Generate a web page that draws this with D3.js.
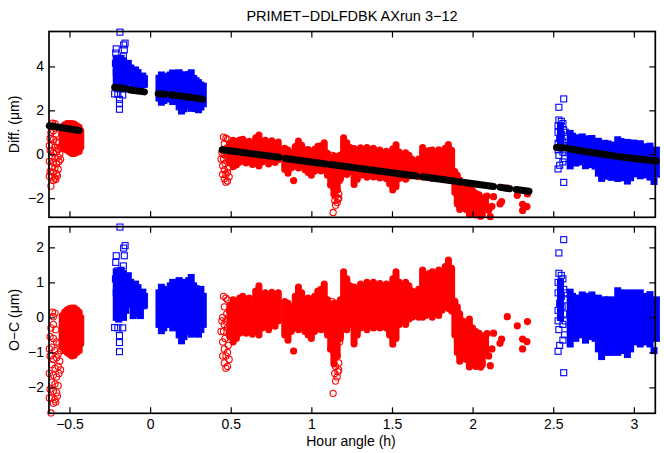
<!DOCTYPE html>
<html>
<head>
<meta charset="utf-8">
<script src="https://cdn.jsdelivr.net/npm/d3@7"></script>
<style>
  body { margin: 0; background: #fff; }
  text { font-family: "Liberation Sans", Arial, Helvetica, sans-serif; }
</style>
</head>
<body>
<svg id="chart" width="664" height="453"></svg>
<script>
// ---- data (hour angle h, value in um) ----

// tick labels
const xTicks = [-0.5, 0, 0.5, 1, 1.5, 2, 2.5, 3];
const yTicksDiff = [-2, 0, 2, 4];
const yTicksOC = [-2, -1, 0, 1, 2];

// model (black dots), piecewise runs [start, end]
const modelRuns = [
  [[-0.625, 1.30], [-0.44, 1.08]],
  [[-0.22, 3.05], [-0.14, 2.97]],
  [[-0.125, 2.93], [-0.035, 2.84]],
  [[0.05, 2.76], [0.09, 2.73]],
  [[0.13, 2.71], [0.325, 2.51]],
  [[0.447, 0.21], [0.80, -0.14]],
  [[0.84, -0.19], [1.09, -0.44]],
  [[1.12, -0.47], [1.27, -0.61]],
  [[1.29, -0.64], [1.65, -0.99]],
  [[1.69, -1.02], [2.13, -1.47]],
  [[2.17, -1.50], [2.23, -1.57]],
  [[2.27, -1.60], [2.35, -1.68]],
  [[2.52, 0.31], [2.58, 0.29]],
  [[2.61, 0.23], [2.88, -0.08]],
  [[2.91, -0.11], [3.14, -0.31]]
];

// dense red filled circles: [h, low, high] of each column
const redColsDiff = [
  [-0.545, 0.34, 1.25], [-0.53, 0.24, 1.34], [-0.515, 0.18, 1.4], [-0.5, 0.1, 1.4],
  [-0.485, 0.03, 1.4], [-0.47, 0.03, 1.38], [-0.455, 0.08, 1.3], [-0.44, 0.13, 1.23], [-0.43, 0.32, 1.07],
  [0.495, -0.4, 0.5], [0.515, -0.57, 0.64], [0.535, -0.49, 0.57], [0.555, -0.36, 0.65],
  [0.575, -0.23, 0.68], [0.595, -0.4, 0.56], [0.615, -0.32, 0.59], [0.635, -0.47, 0.47],
  [0.655, -0.41, 0.75], [0.675, -0.53, 0.88], [0.695, -0.35, 0.56], [0.715, -0.27, 0.64],
  [0.735, -0.44, 0.42], [0.755, -0.2, 0.62], [0.775, -0.38, 0.48], [0.795, -0.25, 0.56],
  [0.835, -0.69, 0.27], [0.855, -0.86, 0.2], [0.875, -0.63, 0.08], [0.9, -0.55, 0.35],
  [0.92, -0.62, 0.6], [0.94, -0.49, 0.41], [0.96, -0.71, 0.19], [0.98, -0.83, 0.22],
  [1.0, -0.95, 0.05], [1.02, -0.77, 0.23], [1.04, -0.69, 0.36], [1.06, -0.76, 0.39],
  [1.08, -0.63, 0.52], [1.1, -0.95, 0.05], [1.12, -1.37, -0.17], [1.14, -1.82, -0.09],
  [1.16, -1.61, -0.31], [1.18, -1.13, -0.03], [1.2, -0.75, 0.75], [1.22, -0.92, 0.53],
  [1.24, -0.79, 0.31], [1.265, -1.38, 0.26], [1.285, -1.14, -0.14], [1.305, -0.96, 0.3],
  [1.325, -0.93, 0.13], [1.345, -1.05, 0.31], [1.365, -0.92, 0.19], [1.385, -1.04, 0.27],
  [1.405, -1.0, 0.15], [1.425, -1.08, 0.2], [1.445, -1.0, 0.06], [1.465, -1.12, 0.14],
  [1.485, -1.34, 0.07], [1.505, -1.63, 0.25], [1.525, -1.48, 0.43], [1.545, -1.1, 0.1],
  [1.565, -1.02, -0.02], [1.585, -1.14, 0.07], [1.605, -1.0, -0.05], [1.625, -0.98, -0.23],
  [1.645, -0.95, -0.4], [1.665, -1.02, -0.22], [1.69, -1.04, 0.31], [1.71, -1.01, 0.14],
  [1.73, -0.98, 0.17], [1.75, -1.1, 0.2], [1.77, -1.02, 0.08], [1.79, -1.09, 0.21],
  [1.81, -0.96, 0.14], [1.83, -0.88, 0.27], [1.85, -0.95, 0.44], [1.87, -1.04, 0.18],
  [1.89, -1.74, -0.78], [1.905, -2.26, -0.96], [1.92, -2.52, -1.17], [1.94, -2.29, -1.39],
  [1.96, -2.51, -1.51], [1.98, -2.75, -1.38], [2.0, -2.65, -1.65], [2.02, -2.77, -1.77],
  [2.04, -2.59, -1.84], [2.06, -2.76, -2.11], [2.08, -2.43, -1.93]
];
const redColsOC = [
  [-0.545, -0.86, 0.05], [-0.53, -0.95, 0.15], [-0.515, -1.0, 0.22], [-0.5, -1.05, 0.25],
  [-0.485, -1.1, 0.27], [-0.47, -1.08, 0.27], [-0.455, -1.0, 0.22], [-0.44, -0.95, 0.15], [-0.43, -0.75, 0.0],
  [0.495, -0.55, 0.35], [0.515, -0.7, 0.5], [0.535, -0.6, 0.45], [0.555, -0.45, 0.55],
  [0.575, -0.3, 0.6], [0.595, -0.45, 0.5], [0.615, -0.35, 0.55], [0.635, -0.48, 0.45],
  [0.655, -0.4, 0.75], [0.675, -0.5, 0.9], [0.695, -0.3, 0.6], [0.715, -0.2, 0.7],
  [0.735, -0.35, 0.5], [0.755, -0.1, 0.72], [0.775, -0.25, 0.6], [0.795, -0.1, 0.7],
  [0.835, -0.5, 0.45], [0.855, -0.65, 0.4], [0.875, -0.4, 0.3], [0.9, -0.3, 0.6],
  [0.92, -0.35, 0.87], [0.94, -0.2, 0.7], [0.96, -0.4, 0.5], [0.98, -0.5, 0.55],
  [1.0, -0.6, 0.4], [1.02, -0.4, 0.6], [1.04, -0.3, 0.75], [1.06, -0.35, 0.8],
  [1.08, -0.2, 0.95], [1.1, -0.5, 0.5], [1.12, -0.9, 0.3], [1.14, -1.33, 0.4],
  [1.16, -1.1, 0.2], [1.18, -0.6, 0.5], [1.2, -0.2, 1.3], [1.22, -0.35, 1.1],
  [1.24, -0.2, 0.9], [1.265, -0.76, 0.87], [1.285, -0.5, 0.5], [1.305, -0.3, 0.95],
  [1.325, -0.25, 0.8], [1.345, -0.35, 1.0], [1.365, -0.2, 0.9], [1.385, -0.3, 1.0],
  [1.405, -0.25, 0.9], [1.425, -0.3, 0.97], [1.445, -0.2, 0.85], [1.465, -0.3, 0.95],
  [1.485, -0.5, 0.9], [1.505, -0.77, 1.1], [1.525, -0.6, 1.3], [1.545, -0.2, 1.0],
  [1.565, -0.1, 0.9], [1.585, -0.2, 1.0], [1.605, -0.05, 0.9], [1.625, 0.0, 0.75],
  [1.645, 0.05, 0.6], [1.665, 0.0, 0.8], [1.69, 0.0, 1.35], [1.71, 0.05, 1.2],
  [1.73, 0.1, 1.25], [1.75, 0.0, 1.3], [1.77, 0.1, 1.2], [1.79, 0.05, 1.35],
  [1.81, 0.2, 1.3], [1.83, 0.3, 1.45], [1.85, 0.25, 1.64], [1.87, 0.18, 1.4],
  [1.89, -0.5, 0.46], [1.905, -1.0, 0.3], [1.92, -1.25, 0.1], [1.94, -1.0, -0.1],
  [1.96, -1.2, -0.2], [1.98, -1.42, -0.05], [2.0, -1.3, -0.3], [2.02, -1.4, -0.4],
  [2.04, -1.2, -0.45], [2.06, -1.35, -0.7], [2.08, -1.0, -0.5]
];

// isolated red filled circles [h, value]
const redDotsDiff = [
  [0.89, -1.2], [2.1, -2.55], [2.11, -2.84], [2.09, -1.9], [2.13, -1.93], [2.17, -2.26],
  [2.18, -2.15], [2.215, -1.545], [2.277, -1.87], [2.31, -2.28], [2.31, -2.56],
  [2.337, -2.38], [2.34, -1.81], [2.12, -2.37], [2.05, -2.82]
];
const redDotsOC = [
  [0.89, -0.96], [2.1, -1.1], [2.11, -1.38], [2.09, -0.46], [2.13, -0.45], [2.17, -0.74],
  [2.18, -0.62], [2.215, 0.02], [2.277, -0.24], [2.31, -0.62], [2.31, -0.9],
  [2.337, -0.69], [2.34, -0.12], [2.12, -0.9], [2.05, -1.42]
];

// red open circles [h, value]
const redOpenDiff = [
  [-0.605, 1.42], [-0.59, 1.39], [-0.6, 1.29], [-0.615, 0.98], [-0.6, 1.07], [-0.585, 0.92],
  [-0.62, 0.73], [-0.6, 0.67], [-0.58, 0.57], [-0.565, 0.52], [-0.61, 0.42], [-0.59, 0.32],
  [-0.57, 0.22], [-0.62, 0.18], [-0.6, 0.07], [-0.58, 0.12], [-0.56, 0.02], [-0.61, -0.08],
  [-0.59, -0.18], [-0.57, -0.13], [-0.625, -0.32], [-0.6, -0.38], [-0.58, -0.43], [-0.565, -0.33],
  [-0.61, -0.58], [-0.59, -0.63], [-0.57, -0.68], [-0.62, -0.78], [-0.6, -0.83], [-0.58, -0.88],
  [-0.61, -1.03], [-0.59, -1.08], [-0.575, -0.98], [-0.6, -1.18], [-0.585, -1.15], [-0.615, -1.45],
  [-0.555, 0.32], [-0.555, -0.23], [-0.625, 0.4], [-0.625, -1.0],
  [0.455, 0.78], [0.47, 0.73], [0.48, 0.68], [0.46, 0.48], [0.45, 0.18], [0.46, -0.02],
  [0.47, 0.08], [0.455, -0.22], [0.465, -0.42], [0.45, -0.52], [0.46, -0.72], [0.47, -0.92],
  [0.48, -0.82], [0.46, -1.12], [0.47, -1.27], [0.48, -1.22], [0.49, -1.02], [0.485, -0.62],
  [0.49, -0.32], [0.48, -0.12], [0.475, 0.28], [0.49, 0.38], [0.45, -0.92], [0.44, -0.22], [0.445, 0.08],
  [1.13, -0.05], [1.15, -0.1], [1.14, -0.3], [1.16, -0.5], [1.125, -0.7], [1.15, -0.9],
  [1.17, -0.8], [1.135, -1.1], [1.155, -1.3], [1.175, -1.2], [1.14, -1.5], [1.16, -1.6],
  [1.17, -1.8], [1.15, -1.9], [1.165, -2.05], [1.145, -2.1], [1.16, -2.2], [1.17, -2.0],
  [1.15, -2.32], [1.135, -2.65], [1.18, -1.0], [1.12, -1.4]
];
const redOpenOC = [
  [-0.605, 0.15], [-0.59, 0.12], [-0.6, 0.02], [-0.615, -0.3], [-0.6, -0.2], [-0.585, -0.35],
  [-0.62, -0.55], [-0.6, -0.6], [-0.58, -0.7], [-0.565, -0.75], [-0.61, -0.85], [-0.59, -0.95],
  [-0.57, -1.05], [-0.62, -1.1], [-0.6, -1.2], [-0.58, -1.15], [-0.56, -1.25], [-0.61, -1.35],
  [-0.59, -1.45], [-0.57, -1.4], [-0.625, -1.6], [-0.6, -1.65], [-0.58, -1.7], [-0.565, -1.6],
  [-0.61, -1.85], [-0.59, -1.9], [-0.57, -1.95], [-0.62, -2.05], [-0.6, -2.1], [-0.58, -2.15],
  [-0.61, -2.3], [-0.59, -2.35], [-0.575, -2.25], [-0.6, -2.45], [-0.585, -2.42], [-0.615, -2.73],
  [-0.555, -0.95], [-0.555, -1.5], [-0.625, -0.9], [-0.625, -2.3],
  [0.455, 0.6], [0.47, 0.55], [0.48, 0.5], [0.46, 0.3], [0.45, 0.0], [0.46, -0.2],
  [0.47, -0.1], [0.455, -0.4], [0.465, -0.6], [0.45, -0.7], [0.46, -0.9], [0.47, -1.1],
  [0.48, -1.0], [0.46, -1.3], [0.47, -1.45], [0.48, -1.4], [0.49, -1.2], [0.485, -0.8],
  [0.49, -0.5], [0.48, -0.3], [0.475, 0.1], [0.49, 0.2], [0.45, -1.1], [0.44, -0.4], [0.445, -0.1],
  [1.13, 0.45], [1.15, 0.4], [1.14, 0.2], [1.16, 0.0], [1.125, -0.2], [1.15, -0.4],
  [1.17, -0.3], [1.135, -0.6], [1.155, -0.8], [1.175, -0.7], [1.14, -1.0], [1.16, -1.1],
  [1.17, -1.3], [1.15, -1.4], [1.165, -1.55], [1.145, -1.6], [1.16, -1.7], [1.17, -1.5],
  [1.15, -1.82], [1.135, -2.17], [1.18, -0.5], [1.12, -0.9]
];

// dense blue filled squares: [h, low, high] of each column
const blueColsDiff = [
  [-0.21, 3.04, 4.34], [-0.195, 2.98, 4.23], [-0.18, 3.12, 4.37], [-0.165, 3.0, 4.25],
  [-0.15, 3.18, 4.08], [-0.135, 3.33, 4.14], [-0.12, 3.33, 3.93], [-0.105, 2.96, 3.51],
  [-0.09, 2.99, 3.84], [-0.075, 3.07, 3.72], [-0.06, 2.9, 3.45], [-0.045, 3.17, 3.56],
  [-0.035, 3.19, 3.44], [0.055, 2.56, 3.46], [0.07, 2.37, 3.61], [0.085, 2.45, 3.55],
  [0.125, 2.51, 3.61], [0.14, 2.4, 3.7], [0.16, 2.43, 3.63], [0.18, 2.16, 3.71],
  [0.195, 1.97, 3.54], [0.21, 2.07, 3.62], [0.225, 2.2, 3.55], [0.24, 2.28, 3.63],
  [0.255, 2.09, 3.71], [0.27, 2.25, 3.45], [0.285, 2.08, 3.35], [0.3, 2.03, 3.26],
  [0.315, 2.15, 3.15], [0.33, 2.3, 3.1],
  [2.545, 0.3, 1.3],
  [2.605, -0.53, 0.95], [2.62, -0.28, 0.82], [2.64, -0.4, 0.75], [2.66, -0.27, 0.68],
  [2.68, -0.35, 0.79], [2.7, -0.52, 0.68], [2.72, -0.3, 0.7], [2.74, -0.47, 0.72],
  [2.76, -0.54, 0.56], [2.78, -0.86, 0.59], [2.8, -1.1, 0.47], [2.82, -1.0, 0.5],
  [2.84, -0.93, 0.47], [2.86, -1.05, 0.35], [2.88, -0.93, 0.42], [2.9, -1.1, 0.66],
  [2.92, -1.07, 0.58], [2.94, -0.94, 0.36], [2.96, -1.22, 0.54], [2.98, -1.07, 0.43],
  [3.0, -0.89, 0.51], [3.02, -0.81, 0.44], [3.04, -0.98, 0.48], [3.06, -0.94, 0.31],
  [3.08, -0.86, 0.34], [3.1, -1.04, 0.37], [3.12, -0.79, 0.11], [3.14, -0.91, 0.19]
];
const blueColsOC = [
  [-0.21, 0.0, 1.3], [-0.195, -0.05, 1.2], [-0.18, 0.1, 1.35], [-0.165, 0.0, 1.25],
  [-0.15, 0.2, 1.1], [-0.135, 0.38, 1.19], [-0.12, 0.4, 1.0], [-0.105, 0.05, 0.6],
  [-0.09, 0.1, 0.95], [-0.075, 0.2, 0.85], [-0.06, 0.05, 0.6], [-0.045, 0.33, 0.72],
  [-0.035, 0.35, 0.6], [0.055, -0.2, 0.7], [0.07, -0.38, 0.86], [0.085, -0.3, 0.8],
  [0.125, -0.2, 0.9], [0.14, -0.3, 1.0], [0.16, -0.25, 0.95], [0.18, -0.5, 1.05],
  [0.195, -0.67, 0.9], [0.21, -0.55, 1.0], [0.225, -0.4, 0.95], [0.24, -0.3, 1.05],
  [0.255, -0.48, 1.14], [0.27, -0.3, 0.9], [0.285, -0.45, 0.82], [0.3, -0.48, 0.75],
  [0.315, -0.35, 0.8], [0.33, -0.2, 0.6],
  [2.545, 0.0, 1.0],
  [2.605, -0.76, 0.72], [2.62, -0.5, 0.6], [2.64, -0.6, 0.55], [2.66, -0.45, 0.5],
  [2.68, -0.5, 0.64], [2.7, -0.65, 0.55], [2.72, -0.4, 0.6], [2.74, -0.55, 0.64],
  [2.76, -0.6, 0.5], [2.78, -0.9, 0.55], [2.8, -1.12, 0.45], [2.82, -1.0, 0.5],
  [2.84, -0.9, 0.5], [2.86, -1.0, 0.4], [2.88, -0.85, 0.5], [2.9, -1.0, 0.76],
  [2.92, -0.95, 0.7], [2.94, -0.8, 0.5], [2.96, -1.06, 0.7], [2.98, -0.9, 0.6],
  [3.0, -0.7, 0.7], [3.02, -0.6, 0.65], [3.04, -0.76, 0.7], [3.06, -0.7, 0.55],
  [3.08, -0.6, 0.6], [3.1, -0.76, 0.65], [3.12, -0.5, 0.4], [3.14, -0.6, 0.5]
];

// isolated blue filled squares
const blueDotsDiff = [[3.125, -1.24]];
const blueDotsOC = [[3.125, -0.95]];

// blue open squares
const blueOpenDiff = [
  [-0.187, 5.56], [-0.155, 5.06], [-0.164, 4.98], [-0.21, 4.8], [-0.16, 4.76], [-0.213, 4.61],
  [-0.166, 4.47], [-0.2, 4.37], [-0.18, 4.22], [-0.215, 4.14], [-0.17, 4.0], [-0.195, 3.93],
  [-0.155, 3.8], [-0.21, 3.74], [-0.175, 3.62], [-0.19, 3.48], [-0.16, 3.35], [-0.205, 3.29],
  [-0.17, 3.1], [-0.19, 3.03], [-0.22, 2.75], [-0.2, 2.73], [-0.17, 2.7], [-0.19, 2.5],
  [-0.19, 2.3], [-0.19, 2.05],
  [2.565, 2.52], [2.535, 2.14], [2.535, 1.56], [2.55, 1.5], [2.56, 1.4], [2.53, 1.3],
  [2.545, 1.2], [2.565, 1.1], [2.53, 1.0], [2.55, 0.9], [2.57, 0.8], [2.54, 0.7],
  [2.555, 0.6], [2.53, 0.5], [2.565, 0.4], [2.545, 0.3], [2.53, 0.2], [2.56, 0.1],
  [2.535, -0.05], [2.57, -0.2], [2.56, -0.35], [2.54, -0.5], [2.53, -0.67], [2.565, -1.28],
  [2.575, 1.0], [2.575, 0.2]
];
const blueOpenOC = [
  [-0.187, 2.58], [-0.155, 2.05], [-0.164, 1.98], [-0.21, 1.76], [-0.16, 1.76], [-0.213, 1.57],
  [-0.166, 1.47], [-0.2, 1.33], [-0.18, 1.2], [-0.215, 1.1], [-0.17, 1.0], [-0.195, 0.9],
  [-0.155, 0.8], [-0.21, 0.7], [-0.175, 0.6], [-0.19, 0.45], [-0.16, 0.35], [-0.205, 0.25],
  [-0.17, 0.1], [-0.19, 0.0], [-0.22, -0.29], [-0.2, -0.3], [-0.17, -0.3], [-0.19, -0.52],
  [-0.19, -0.72], [-0.19, -0.98],
  [2.565, 2.22], [2.535, 1.84], [2.535, 1.26], [2.55, 1.2], [2.56, 1.1], [2.53, 1.0],
  [2.545, 0.9], [2.565, 0.8], [2.53, 0.7], [2.55, 0.6], [2.57, 0.5], [2.54, 0.4],
  [2.555, 0.3], [2.53, 0.2], [2.565, 0.1], [2.545, 0.0], [2.53, -0.1], [2.56, -0.2],
  [2.535, -0.35], [2.57, -0.5], [2.56, -0.65], [2.54, -0.8], [2.53, -0.97], [2.565, -1.58],
  [2.575, 0.7], [2.575, -0.1]
];

// ---- drawing ----
const svg = d3.select("#chart");
const left = 49, right = 655.3;
const x = d3.scaleLinear().domain([-0.627, 3.133]).range([left, right]);

const RED = "#ff0000", BLUE = "#0000ff";
const fmt = d3.format("");   // plain numbers: 0, 0.5, 1, −0.5

function panel(y, d, withXLabels) {
  const g = svg.append("g");
  const [bottom, top] = y.range();

  // filled column clouds
  g.selectAll(null).data(d.redCols).join("line")
    .attr("x1", c => x(c[0])).attr("x2", c => x(c[0]))
    .attr("y1", c => y(c[1])).attr("y2", c => y(c[2]))
    .attr("stroke", RED).attr("stroke-width", 7).attr("stroke-linecap", "round");
  g.selectAll(null).data(d.redDots).join("circle")
    .attr("cx", p => x(p[0])).attr("cy", p => y(p[1])).attr("r", 3.6)
    .attr("fill", RED);
  g.selectAll(null).data(d.redOpen).join("circle")
    .attr("cx", p => x(p[0])).attr("cy", p => y(p[1])).attr("r", 3.1)
    .attr("fill", "none").attr("stroke", RED).attr("stroke-width", 1.1);

  g.selectAll(null).data(d.blueCols).join("line")
    .attr("x1", c => x(c[0])).attr("x2", c => x(c[0]))
    .attr("y1", c => y(c[1])).attr("y2", c => y(c[2]))
    .attr("stroke", BLUE).attr("stroke-width", 7).attr("stroke-linecap", "square");
  g.selectAll(null).data(d.blueDots).join("rect")
    .attr("x", p => x(p[0]) - 3.5).attr("y", p => y(p[1]) - 3.5)
    .attr("width", 7).attr("height", 7).attr("fill", BLUE);
  g.selectAll(null).data(d.blueOpen).join("rect")
    .attr("x", p => x(p[0]) - 3).attr("y", p => y(p[1]) - 3)
    .attr("width", 6).attr("height", 6)
    .attr("fill", "none").attr("stroke", BLUE).attr("stroke-width", 1.1);

  // black model dots
  if (d.model) {
    const line = d3.line().x(p => x(p[0])).y(p => y(p[1]));
    g.selectAll(null).data(d.model).join("path")
      .attr("d", line).attr("fill", "none").attr("stroke", "#000")
      .attr("stroke-width", 7).attr("stroke-linecap", "round");
  }

  // axes, ticks inward on all sides
  const ax = svg.append("g");
  ax.append("g").attr("transform", `translate(0,${bottom})`)
    .call(d3.axisBottom(x).tickValues(xTicks).tickSizeInner(-6).tickSizeOuter(0)
      .tickPadding(6).tickFormat(withXLabels ? fmt : () => ""));
  ax.append("g").attr("transform", `translate(0,${top})`)
    .call(d3.axisTop(x).tickValues(xTicks).tickSizeInner(-6).tickSizeOuter(0).tickFormat(() => ""));
  ax.append("g").attr("transform", `translate(${left},0)`)
    .call(d3.axisLeft(y).tickValues(d.yTicks).tickSizeInner(-6).tickSizeOuter(0)
      .tickPadding(5).tickFormat(fmt));
  ax.append("g").attr("transform", `translate(${right},0)`)
    .call(d3.axisRight(y).tickValues(d.yTicks).tickSizeInner(-6).tickSizeOuter(0).tickFormat(() => ""));
  ax.selectAll(".domain").remove();
  ax.selectAll(".tick line").attr("stroke", "#000").attr("stroke-width", 1.2);
  ax.selectAll(".tick text").attr("fill", "#000").attr("font-size", 14)
    .attr("font-family", '"Liberation Sans", Arial, sans-serif');
  ax.append("rect").attr("x", left).attr("y", top)
    .attr("width", right - left).attr("height", bottom - top)
    .attr("fill", "none").attr("stroke", "#000").attr("stroke-width", 1.7);

  svg.append("text")
    .attr("transform", `translate(19,${(top + bottom) / 2}) rotate(-90)`)
    .attr("text-anchor", "middle").attr("font-size", 14).text(d.label);
}

const yDiff = d3.scaleLinear().domain([-2.87, 5.59]).range([217.3, 31.5]);
const yOC = d3.scaleLinear().domain([-2.74, 2.59]).range([413.3, 226.7]);

panel(yDiff, {
  redCols: redColsDiff, redDots: redDotsDiff, redOpen: redOpenDiff,
  blueCols: blueColsDiff, blueDots: blueDotsDiff, blueOpen: blueOpenDiff,
  model: modelRuns, yTicks: yTicksDiff, label: "Diff. (\u03bcm)"
}, false);

panel(yOC, {
  redCols: redColsOC, redDots: redDotsOC, redOpen: redOpenOC,
  blueCols: blueColsOC, blueDots: blueDotsOC, blueOpen: blueOpenOC,
  model: null, yTicks: yTicksOC, label: "O\u2212C (\u03bcm)"
}, true);

svg.append("text").attr("x", 352).attr("y", 20.5).attr("text-anchor", "middle")
  .attr("font-size", 14.5).text("PRIMET\u2212DDLFDBK AXrun 3\u221212");
svg.append("text").attr("x", 351).attr("y", 446).attr("text-anchor", "middle")
  .attr("font-size", 14).text("Hour angle (h)");
</script>
</body>
</html>
